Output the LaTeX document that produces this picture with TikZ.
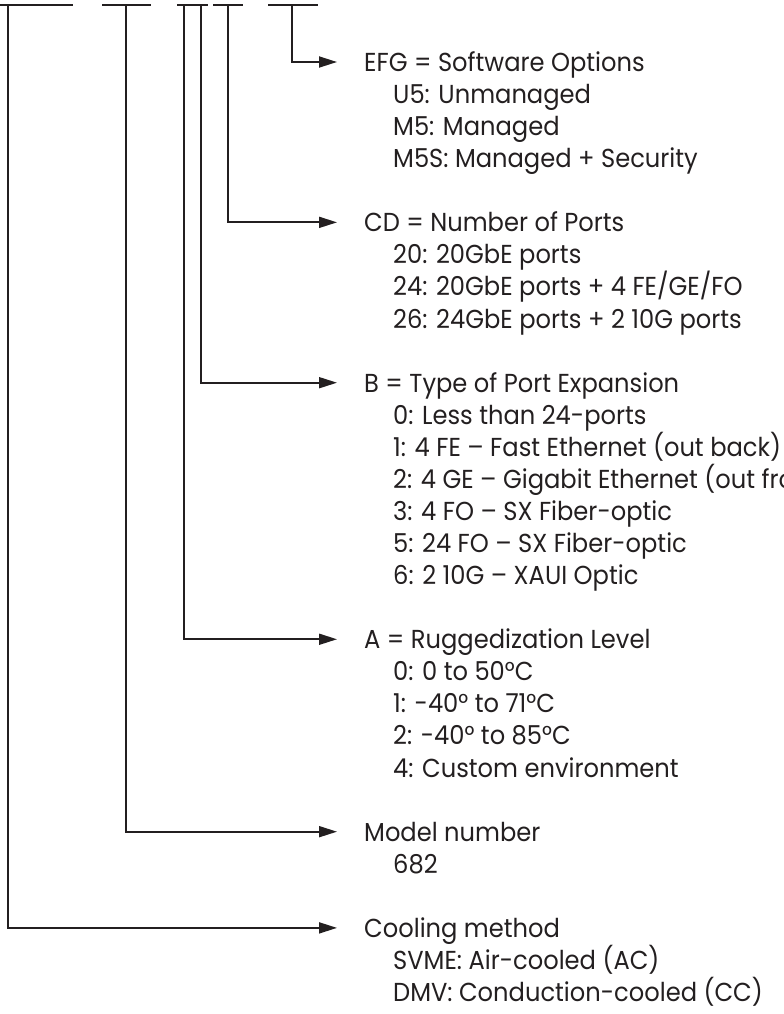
\documentclass[tikz,border=0pt]{standalone}
\usepackage{fontspec}
\setmainfont{Poppins}[FakeStretch=0.93]
\usetikzlibrary{arrows.meta}
\definecolor{ink}{HTML}{231F20}
\begin{document}
\begin{tikzpicture}[x=1bp,y=-1bp,
  wire/.style={line width=1.8bp, draw=ink},
  arr/.style={wire, -{Triangle[length=18bp,width=11bp]}},
  head/.style={anchor=base west, inner sep=0pt, text=ink,
    font=\fontsize{26bp}{32bp}\selectfont, text height=19bp, text depth=0pt},
  item/.style={head}]
\useasboundingbox (0,0) rectangle (784,1014);
\def\ls{32.07}
\def\bl#1{{71.5+\ls*#1}}
% underline bars
\draw[wire] (0,5) -- (73,5);
\draw[wire] (102,5) -- (151,5);
\draw[wire] (177,5) -- (208,5);
\draw[wire] (213,5) -- (243,5);
\draw[wire] (268,5) -- (318,5);
\coordinate (vEFG) at (292,5);
\coordinate (vCD) at (228,5);
\coordinate (vB) at (201,5);
\coordinate (vA) at (184,5);
\coordinate (vM) at (126,5);
\coordinate (vC) at (8,5);
% EFG
\node[head] (efg) at (364,\bl{0}) {EFG = Software Options};
\node[item] (efg1) at (393,\bl{1}) {U5: Unmanaged};
\node[item] (efg2) at (393,\bl{2}) {M5: Managed};
\node[item] (efg3) at (393,\bl{3}) {M5S: Managed + Security};
% CD
\node[head] (cd) at (364,\bl{5}) {CD = Number of Ports};
\node[item] (cd1) at (393,\bl{6}) {20: 20GbE ports};
\node[item] (cd2) at (393,\bl{7}) {24: 20GbE ports + 4 FE/GE/FO};
\node[item] (cd3) at (393,\bl{8}) {26: 24GbE ports + 2 10G ports};
% B
\node[head] (b) at (364,\bl{10}) {B = Type of Port Expansion};
\node[item] (b0) at (393,\bl{11}) {0: Less than 24-ports};
\node[item] (b1) at (393,\bl{12}) {1: 4 FE – Fast Ethernet (out back)};
\node[item] (b2) at (393,\bl{13}) {2: 4 GE – Gigabit Ethernet (out front)};
\node[item] (b3) at (393,\bl{14}) {3: 4 FO – SX Fiber-optic};
\node[item] (b5) at (393,\bl{15}) {5: 24 FO – SX Fiber-optic};
\node[item] (b6) at (393,\bl{16}) {6: 2 10G – XAUI Optic};
% A
\node[head] (a) at (364,\bl{18}) {A = Ruggedization Level};
\node[item] (a0) at (393,\bl{19}) {0: 0 to 50°C};
\node[item] (a1) at (393,\bl{20}) {1: -40° to 71°C};
\node[item] (a2) at (393,\bl{21}) {2: -40° to 85°C};
\node[item] (a4) at (393,\bl{22}) {4: Custom environment};
% Model
\node[head] (m) at (364,\bl{24}) {Model number};
\node[item] (m1) at (393,\bl{25}) {682};
% Cooling
\node[head] (c) at (364,\bl{27}) {Cooling method};
\node[item] (c1) at (393,\bl{28}) {SVME: Air-cooled (AC)};
\node[item] (c2) at (393,\bl{29}) {DMV: Conduction-cooled (CC)};
% connectors
\draw[arr] (vEFG) |- ([xshift=-27bp]efg.west);
\draw[arr] (vCD) |- ([xshift=-27bp]cd.west);
\draw[arr] (vB) |- ([xshift=-27bp]b.west);
\draw[arr] (vA) |- ([xshift=-27bp]a.west);
\draw[arr] (vM) |- ([xshift=-27bp]m.west);
\draw[arr] (vC) |- ([xshift=-27bp]c.west);
\end{tikzpicture}
\end{document}
